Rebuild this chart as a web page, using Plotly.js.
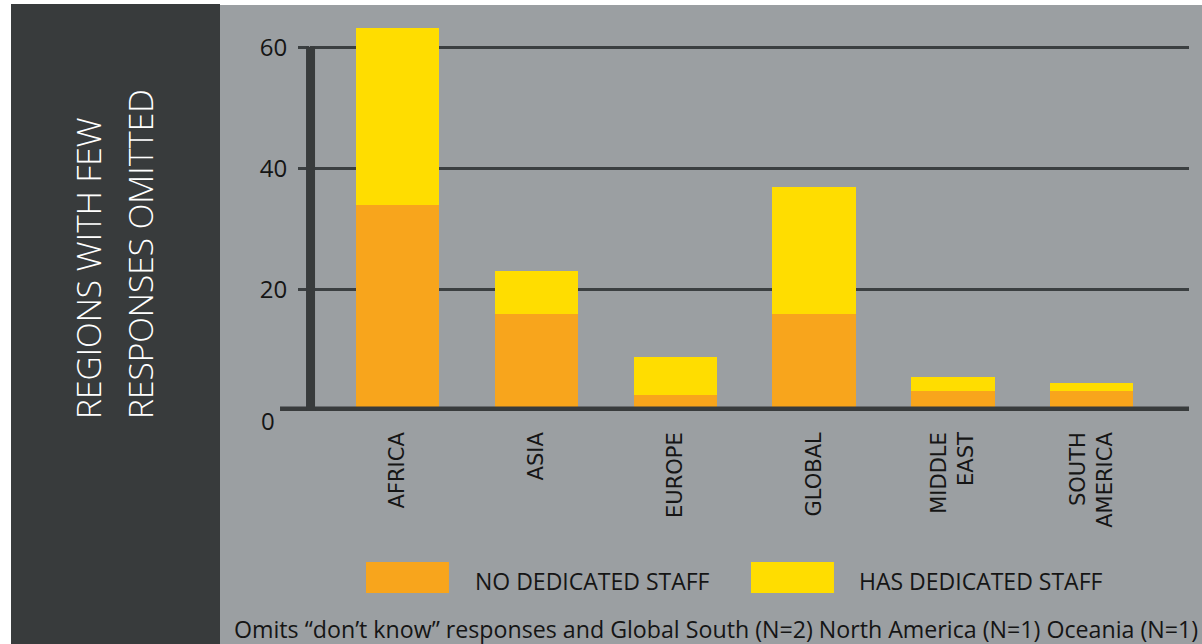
<!DOCTYPE html>
<html>
<head>
<meta charset="utf-8">
<script src="https://cdn.plot.ly/plotly-3.0.1.min.js"></script>
<style>
  html, body { margin:0; padding:0; background:#ffffff; }
  #wrap { position:relative; width:1202px; height:644px; overflow:hidden; }
  #panel { position:absolute; left:11px; top:4px; width:209px; height:640px; background:#383b3c; }
  #bg { position:absolute; left:220px; top:5px; width:982px; height:639px; background:#9b9fa2; }
  #chart { position:absolute; left:0; top:0; width:1202px; height:644px; }
</style>
</head>
<body>
<div id="wrap">
  <div id="panel"></div>
  <div id="bg"></div>
  <div id="chart"></div>
</div>
<script>
// ---- data ----
const categories = ["AFRICA", "ASIA", "EUROPE", "GLOBAL", "MIDDLE<br>EAST", "SOUTH<br>AMERICA"];
const seriesNames = ["NO DEDICATED STAFF", "HAS DEDICATED STAFF"];
const noDedicatedStaff = [34, 16, 2.6, 16, 3.3, 3.3];
const hasDedicatedStaff = [29.3, 7.2, 6.3, 21, 2.3, 1.3];
const yTickVals = [0, 20, 40, 60];
const yTickText = ["0", "20", "40", "60"];
const panelLines = ["REGIONS WITH FEW", "RESPONSES OMITTED"];
const footnote = "Omits \u201cdon\u2019t know\u201d responses and Global South (N=2) North America (N=1) Oceania (N=1)";

// ---- style ----
const colors = ["#f8a51c", "#ffdd00"];
const dark = "#383b3c";
const txt = "#151515";
const sansFont = "'Open Sans', 'DejaVu Sans', sans-serif";

const traces = [noDedicatedStaff, hasDedicatedStaff].map((vals, i) => ({
  type: "bar",
  x: categories.map((c, k) => k),
  y: vals,
  name: seriesNames[i],
  marker: { color: colors[i], line: { width: 0 } },
  hoverinfo: "x+y+name",
  showlegend: false
}));

// legend built from series names (large swatches)
const swatchX = [[0.0637, 0.1581], [0.5017, 0.5961]];
const legendTextX = [0.1854, 0.6223];
const shapes = [];
const annotations = [];
seriesNames.forEach((n, i) => {
  shapes.push({
    type: "rect", xref: "paper", yref: "paper",
    x0: swatchX[i][0], x1: swatchX[i][1], y0: -0.4655, y1: -0.3862,
    fillcolor: colors[i], line: { width: 0 }
  });
  annotations.push({
    text: n, xref: "paper", yref: "paper", x: legendTextX[i], y: -0.4348,
    xanchor: "left", yanchor: "middle", showarrow: false,
    font: { family: sansFont, size: 23, color: txt }
  });
});

// zero axis line (extends left of the plot) and vertical axis line (extends below zero)
shapes.push({
  type: "line", xref: "paper", yref: "y",
  x0: -0.0341, x1: 1, y0: 0, y1: 0,
  line: { color: dark, width: 9 }
});
shapes.push({
  type: "line", xref: "paper", yref: "y",
  x0: 0.0006, x1: 0.0006, y0: -4.46, y1: yTickVals[yTickVals.length - 1] + 0.15,
  line: { color: dark, width: 9 }
});

// the "0" tick label sits lower-left in the original
annotations.push({
  text: yTickText[0], xref: "paper", yref: "y", x: -0.0375, y: yTickVals[0],
  yshift: -9, xanchor: "right", yanchor: "middle", showarrow: false,
  font: { family: sansFont, size: 24, color: txt }
});

// left panel title
const panelX = [-0.2526, -0.1934];
panelLines.forEach((t, i) => {
  annotations.push({
    text: t, xref: "paper", yref: "paper", x: panelX[i], y: -0.0256,
    xanchor: "center", yanchor: "bottom", textangle: -90, showarrow: false,
    font: { family: sansFont, size: 33.5, color: "#ffffff", weight: 300 }
  });
});

// footnote
annotations.push({
  text: footnote, xref: "paper", yref: "paper", x: -0.0887, y: -0.5575,
  xanchor: "left", yanchor: "middle", showarrow: false,
  font: { family: sansFont, size: 23.2, color: txt }
});

const layout = {
  width: 1202, height: 644,
  margin: { l: 310, r: 13, t: 20, b: 233, pad: 0 },
  paper_bgcolor: "rgba(0,0,0,0)",
  plot_bgcolor: "rgba(0,0,0,0)",
  barmode: "stack",
  bargap: 0.4,
  showlegend: false,
  xaxis: {
    range: [-0.63, 5.70],
    tickmode: "array",
    tickvals: categories.map((c, k) => k),
    ticktext: categories,
    tickangle: -90,
    ticks: "",
    showgrid: false, zeroline: false, showline: false,
    ticklabelstandoff: 16,
    tickfont: { family: "'DejaVu Sans', sans-serif", size: 21, color: txt }
  },
  yaxis: {
    range: [0, 64.57],
    tickmode: "array",
    tickvals: yTickVals.slice(1),
    ticktext: yTickText.slice(1),
    ticks: "outside", ticklen: 11, tickwidth: 3, tickcolor: "#3b3f41",
    showgrid: true, gridcolor: "#3b3f41", gridwidth: 3,
    zeroline: false, showline: false,
    ticklabelstandoff: 6,
    tickfont: { family: sansFont, size: 24, color: txt }
  },
  shapes: shapes,
  annotations: annotations
};

Plotly.newPlot("chart", traces, layout, { displayModeBar: false, staticPlot: true });
</script>
</body>
</html>
